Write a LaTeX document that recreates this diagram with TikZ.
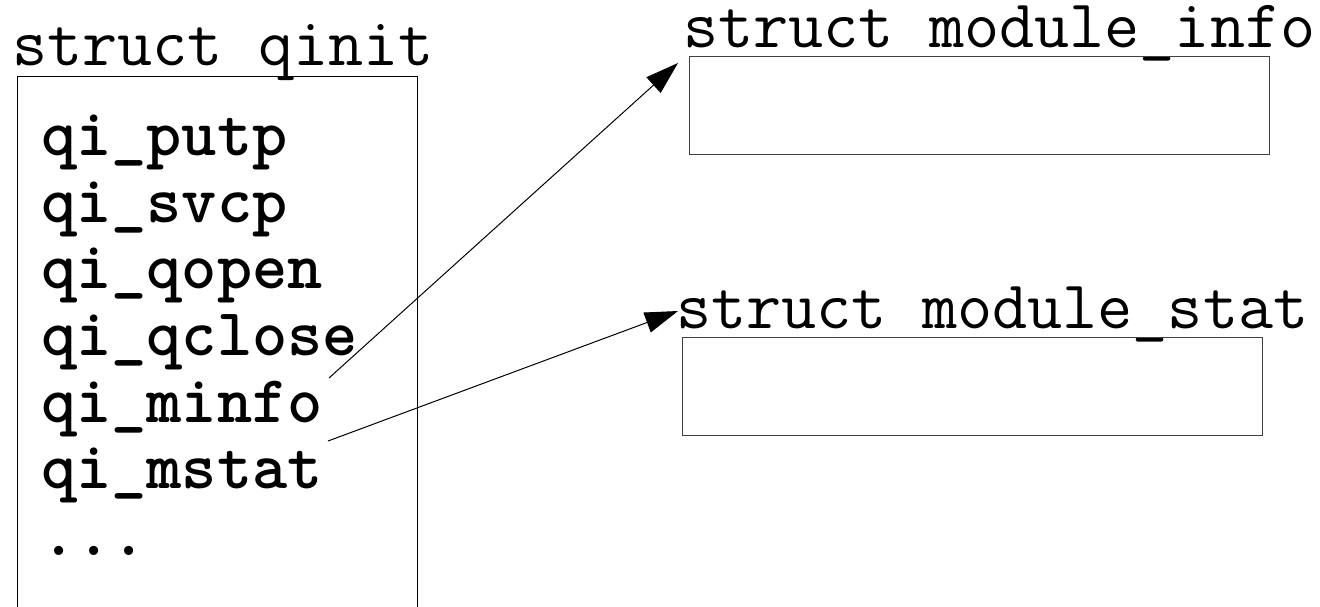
\documentclass[tikz,border=0pt]{standalone}
\usetikzlibrary{arrows.meta}
\begin{document}
\begin{tikzpicture}[x=1pt,y=-1pt,
  lbl/.style={anchor=base west,inner sep=0pt,text height=44pt,text depth=12pt,font=\ttfamily\fontsize{68.2}{70}\selectfont},
  item/.style={anchor=base west,inner sep=0pt,font=\ttfamily\bfseries\fontsize{67}{70}\selectfont},
  modbox/.style={draw=black!75,line width=1.2pt,anchor=north west,inner sep=0pt},
  ptr/.style={draw=black,line width=1pt,-{Triangle[length=33pt,width=21pt]}}]
\useasboundingbox (0,0) rectangle (1320,606);
\fill[white] (0,0) rectangle (1320,606);
% struct qinit
\node[lbl] (qinitlbl) at (12,65) {struct qinit};
\node[draw=black,line width=1.3pt,anchor=north west,inner sep=0pt,minimum width=400pt,minimum height=560pt] (qinit) at (17,76) {};
\node[item] (putp) at (41,155) {qi\_putp};
\node[item] (svcp) at (41,222) {qi\_svcp};
\node[item] (qopen) at (41,288) {qi\_qopen};
\node[item] (qclose) at (41,355) {qi\_qclose};
\node[item] (minfo) at (41,422) {qi\_minfo};
\node[item] (mstat) at (41,488) {qi\_mstat};
\node[item] (more) at (41,555) {...};
% struct module_info
\node[lbl] (infolbl) at (683,47) {struct module\_info};
\node[modbox,minimum width=580pt,minimum height=98pt] (info) at (689,56) {};
% struct module_stat
\node[lbl] (statlbl) at (676,328) {struct module\_stat};
\node[modbox,minimum width=580pt,minimum height=98pt] (stat) at (682,337) {};
% pointers
\coordinate (minfoptr) at (329,378);
\coordinate (mstatptr) at (328,441);
\coordinate (infotip) at (678,63);
\coordinate (stattip) at (678,311);
\draw[ptr] (minfoptr) -- (infotip);
\draw[ptr] (mstatptr) -- (stattip);
\end{tikzpicture}
\end{document}
